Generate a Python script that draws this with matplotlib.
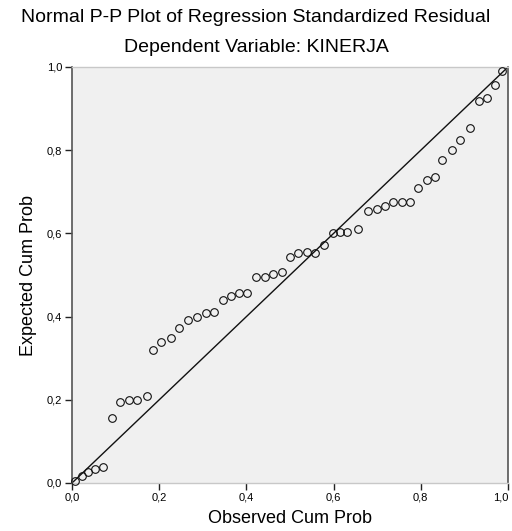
import matplotlib
matplotlib.use("Agg")
import matplotlib.pyplot as plt
from matplotlib.ticker import FixedLocator, FuncFormatter

plt.rcParams['font.family'] = ['Liberation Sans', 'DejaVu Sans']

observed = [0.007, 0.023, 0.037, 0.053, 0.071, 0.091, 0.110, 0.131, 0.150, 0.171,
            0.186, 0.205, 0.226, 0.245, 0.266, 0.287, 0.307, 0.326, 0.346, 0.365,
            0.383, 0.401, 0.423, 0.443, 0.461, 0.482, 0.500, 0.518, 0.538, 0.557,
            0.578, 0.599, 0.615, 0.631, 0.656, 0.679, 0.700, 0.718, 0.736, 0.757,
            0.775, 0.794, 0.814, 0.833, 0.849, 0.872, 0.890, 0.913, 0.933, 0.952,
            0.970, 0.986]
expected = [0.005, 0.017, 0.026, 0.034, 0.038, 0.156, 0.195, 0.200, 0.200, 0.209,
            0.320, 0.339, 0.349, 0.373, 0.392, 0.399, 0.409, 0.411, 0.440, 0.450,
            0.457, 0.457, 0.495, 0.495, 0.502, 0.507, 0.543, 0.553, 0.555, 0.553,
            0.572, 0.601, 0.603, 0.603, 0.611, 0.654, 0.659, 0.666, 0.675, 0.675,
            0.675, 0.709, 0.728, 0.736, 0.776, 0.800, 0.825, 0.853, 0.918, 0.925,
            0.957, 0.990]
ref_line = [0.0, 1.0]
ticks = [0.0, 0.2, 0.4, 0.6, 0.8, 1.0]

title = "Normal P-P Plot of Regression Standardized Residual"
subtitle = "Dependent Variable: KINERJA"
xlabel = "Observed Cum Prob"
ylabel = "Expected Cum Prob"

fig = plt.figure(figsize=(5.12, 5.31), dpi=100)
ax = fig.add_axes([72/512, 48/531, 436/512, 416/531])
ax.set_facecolor('#f0f0f0')

ax.plot(ref_line, ref_line, color='#111111', lw=1.0, zorder=2)
ax.plot(observed, expected, linestyle='none', marker='o', markersize=5.5,
        markerfacecolor='none', markeredgecolor='#111111', markeredgewidth=0.8,
        zorder=3, clip_on=False)

ax.set_xlim(0, 1)
ax.set_ylim(0, 1)
ax.xaxis.set_major_locator(FixedLocator(ticks))
ax.yaxis.set_major_locator(FixedLocator(ticks))
fmt = FuncFormatter(lambda v, p: f"{v:.1f}".replace('.', ','))
ax.xaxis.set_major_formatter(fmt)
ax.yaxis.set_major_formatter(fmt)
ax.tick_params(axis='both', direction='out', length=5, width=1.0,
               color='#222222', labelsize=8, pad=2)

for side in ['left', 'right']:
    ax.spines[side].set_color('#555555')
    ax.spines[side].set_linewidth(1.2)
for side in ['top', 'bottom']:
    ax.spines[side].set_color('#c8c8c8')
    ax.spines[side].set_linewidth(1.0)

ax.set_xlabel(xlabel, fontsize=13, labelpad=5)
ax.set_ylabel(ylabel, fontsize=13, labelpad=7)

fig.canvas.draw()
xlabels = ax.get_xticklabels()
xlabels[-1].set_horizontalalignment('right')
xlabels[-1].set_x(1.0)

fig.text(0.5, 1 - 18/531, title, ha='center', va='center', fontsize=14)
fig.text(0.5, 1 - 47/531, subtitle, ha='center', va='center', fontsize=14)

fig.savefig("out.png", dpi=100)
